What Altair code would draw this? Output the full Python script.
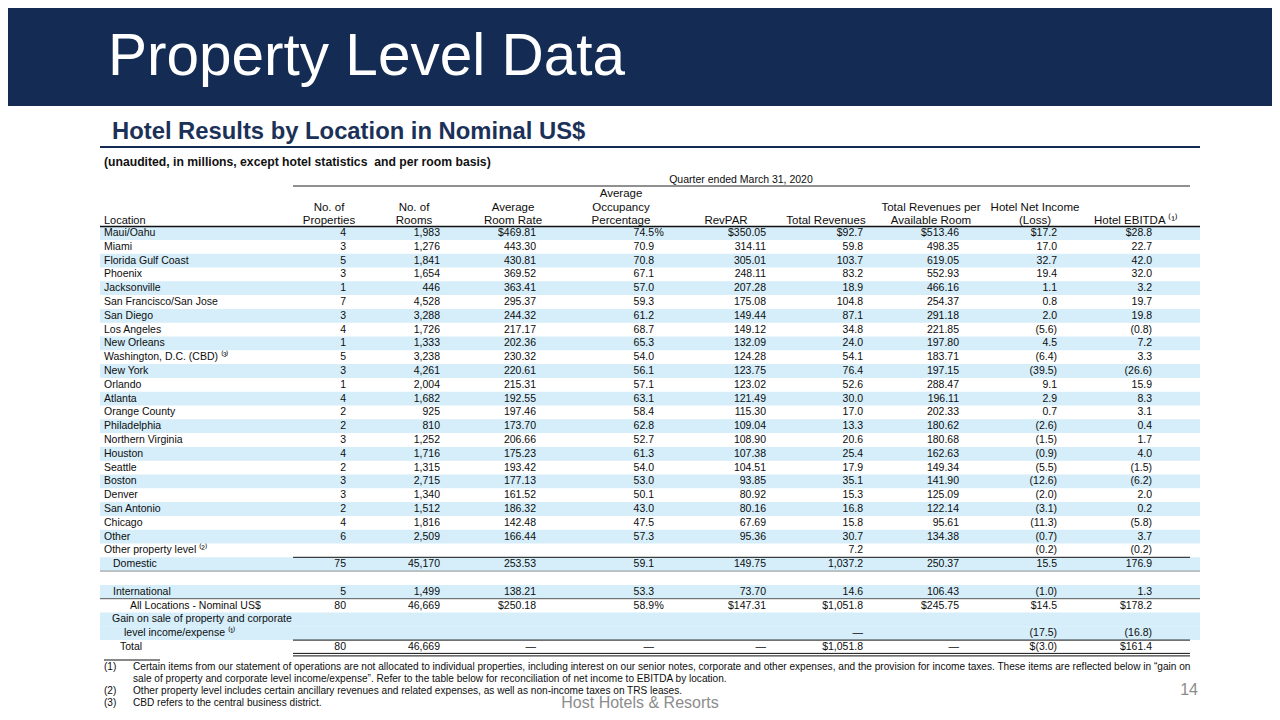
import altair as alt
import pandas as pd

# ------------------------------------------------------------------ data
locations = ["Maui/Oahu", "Miami", "Florida Gulf Coast", "Phoenix", "Jacksonville",
             "San Francisco/San Jose", "San Diego", "Los Angeles", "New Orleans",
             "Washington, D.C. (CBD) \u207d\u00b3\u207e", "New York", "Orlando", "Atlanta",
             "Orange County", "Philadelphia", "Northern Virginia", "Houston", "Seattle",
             "Boston", "Denver", "San Antonio", "Chicago", "Other"]
properties = [4, 3, 5, 3, 1, 7, 3, 4, 1, 5, 3, 1, 4, 2, 2, 3, 4, 2, 3, 3, 2, 4, 6]
rooms = [1983, 1276, 1841, 1654, 446, 4528, 3288, 1726, 1333, 3238, 4261, 2004, 1682,
         925, 810, 1252, 1716, 1315, 2715, 1340, 1512, 1816, 2509]
avg_room_rate = [469.81, 443.30, 430.81, 369.52, 363.41, 295.37, 244.32, 217.17, 202.36,
                 230.32, 220.61, 215.31, 192.55, 197.46, 173.70, 206.66, 175.23, 193.42,
                 177.13, 161.52, 186.32, 142.48, 166.44]
occupancy = [74.5, 70.9, 70.8, 67.1, 57.0, 59.3, 61.2, 68.7, 65.3, 54.0, 56.1, 57.1, 63.1,
             58.4, 62.8, 52.7, 61.3, 54.0, 53.0, 50.1, 43.0, 47.5, 57.3]
revpar = [350.05, 314.11, 305.01, 248.11, 207.28, 175.08, 149.44, 149.12, 132.09, 124.28,
          123.75, 123.02, 121.49, 115.30, 109.04, 108.90, 107.38, 104.51, 93.85, 80.92,
          80.16, 67.69, 95.36]
total_revenues = [92.7, 59.8, 103.7, 83.2, 18.9, 104.8, 87.1, 34.8, 24.0, 54.1, 76.4, 52.6,
                  30.0, 17.0, 13.3, 20.6, 25.4, 17.9, 35.1, 15.3, 16.8, 15.8, 30.7]
trevpar = [513.46, 498.35, 619.05, 552.93, 466.16, 254.37, 291.18, 221.85, 197.80, 183.71,
           197.15, 288.47, 196.11, 202.33, 180.62, 180.68, 162.63, 149.34, 141.90, 125.09,
           122.14, 95.61, 134.38]
net_income = [17.2, 17.0, 32.7, 19.4, 1.1, 0.8, 2.0, -5.6, 4.5, -6.4, -39.5, 9.1, 2.9, 0.7,
              -2.6, -1.5, -0.9, -5.5, -12.6, -2.0, -3.1, -11.3, -0.7]
ebitda = [28.8, 22.7, 42.0, 32.0, 3.2, 19.7, 19.8, -0.8, 7.2, 3.3, -26.6, 15.9, 8.3, 3.1,
          0.4, 1.7, 4.0, -1.5, -6.2, 2.0, 0.2, -5.8, 3.7]

other_level = {"total_revenues": 7.2, "net_income": -0.2, "ebitda": -0.2}
domestic = [75, 45170, 253.53, 59.1, 149.75, 1037.2, 250.37, 15.5, 176.9]
international = [5, 1499, 138.21, 53.3, 73.70, 14.6, 106.43, -1.0, 1.3]
all_locations = [80, 46669, 250.18, 58.9, 147.31, 1051.8, 245.75, 14.5, 178.2]
gain_on_sale = {"net_income": -17.5, "ebitda": -16.8}
total_row = {"properties": 80, "rooms": 46669, "total_revenues": 1051.8,
             "net_income": -3.0, "ebitda": 161.4}

headers = {
    "properties": ["", "No. of", "Properties"],
    "rooms": ["", "No. of", "Rooms"],
    "rate": ["", "Average", "Room Rate"],
    "occ": ["Average", "Occupancy", "Percentage"],
    "revpar": ["", "", "RevPAR"],
    "total_revenues": ["", "", "Total Revenues"],
    "trevpar": ["", "Total Revenues per", "Available Room"],
    "net_income": ["", "Hotel Net Income", "(Loss)"],
    "ebitda": ["", "", "Hotel EBITDA \u207d\u00b9\u207e"],
}

footnotes = [
    ("(1)", "Certain items from our statement of operations are not allocated to individual properties, including interest on our senior notes, corporate and other expenses, and the provision for income taxes. These items are reflected below in \u201cgain on"),
    ("", "sale of property and corporate level income/expense\u201d. Refer to the table below for reconciliation of net income to EBITDA by location."),
    ("(2)", "Other property level includes certain ancillary revenues and related expenses, as well as non-income taxes on TRS leases."),
    ("(3)", "CBD refers to the central business district."),
]

# ------------------------------------------------------------------ layout
FONT = "Liberation Sans, Arial, sans-serif"
NAVY = "#142c54"
SHADE = "#d5eefa"
INK = "#0d0d0d"
cols = ["properties", "rooms", "rate", "occ", "revpar", "total_revenues", "trevpar",
        "net_income", "ebitda"]
col_right = dict(zip(cols, [346, 440, 536, 654, 766, 863, 959, 1057, 1152]))
col_head = dict(zip(cols, [329, 414, 513, 621, 726, 826, 931, 1035, 1136]))
ROW0, PITCH = 233.0, 13.8


def ry(i):
    return ROW0 + i * PITCH


def fmt(v, dec, dollar=False):
    s = f"{abs(v):,.{dec}f}"
    if v < 0:
        s = f"({s})"
    return ("$" + s) if dollar else s


decs = dict(zip(cols, [0, 0, 2, 1, 2, 1, 2, 1, 1]))
money = {"rate", "revpar", "total_revenues", "trevpar", "net_income", "ebitda"}

cells, pct, labels = [], [], []


def add_row(i, values, dollar=False, pct_sign=False):
    for c, v in zip(cols, values):
        if v is None:
            continue
        t = v if isinstance(v, str) else fmt(v, decs[c], dollar and c in money)
        cells.append({"x": col_right[c], "y": ry(i), "text": t})
        if c == "occ" and pct_sign and not isinstance(v, str):
            pct.append({"x": col_right[c] + 0.5, "y": ry(i), "text": "%"})


for i, name in enumerate(locations):
    labels.append({"x": 104, "y": ry(i), "text": name})
    add_row(i, [properties[i], rooms[i], avg_room_rate[i], occupancy[i], revpar[i],
                total_revenues[i], trevpar[i], net_income[i], ebitda[i]],
            dollar=(i == 0), pct_sign=(i == 0))

n = len(locations)
labels.append({"x": 104, "y": ry(n), "text": "Other property level \u207d\u00b2\u207e"})
add_row(n, [None, None, None, None, None, other_level["total_revenues"], None,
            other_level["net_income"], other_level["ebitda"]])
labels.append({"x": 113, "y": ry(n + 1), "text": "Domestic"})
add_row(n + 1, domestic)
labels.append({"x": 113, "y": ry(n + 3), "text": "International"})
add_row(n + 3, international)
labels.append({"x": 130, "y": ry(n + 4), "text": "All Locations - Nominal US$"})
add_row(n + 4, all_locations, dollar=True, pct_sign=True)
labels.append({"x": 112, "y": ry(n + 5), "text": "Gain on sale of property and corporate"})
labels.append({"x": 124, "y": ry(n + 6), "text": "level income/expense \u207d\u00b9\u207e"})
add_row(n + 6, [None, None, None, None, None, "\u2014", None,
                gain_on_sale["net_income"], gain_on_sale["ebitda"]])
labels.append({"x": 120, "y": ry(n + 7), "text": "Total"})
add_row(n + 7, [str(total_row["properties"]), f"{total_row['rooms']:,}", "\u2014", "\u2014",
                "\u2014", fmt(total_row["total_revenues"], 1, True),
                "\u2014", "$" + fmt(total_row["net_income"], 1),
                fmt(total_row["ebitda"], 1, True)])

shaded_rows = [i for i in range(0, n, 2)] + [n + 1, n + 3, n + 5, n + 6]
shade_df = pd.DataFrame([{"x": 100, "x2": 1200, "y": ry(i) - PITCH / 2,
                          "y2": ry(i) + PITCH / 2, "c": SHADE} for i in shaded_rows])
band_df = pd.DataFrame([{"x": 8, "x2": 1272, "y": 8, "y2": 106, "c": NAVY}])
rect_df = pd.concat([band_df, shade_df], ignore_index=True)


def bot(i):
    return ry(i) + PITCH / 2


rules = [
    (100, 1200, 147, NAVY, 2.2),
    (293, 1190, 186, "#222222", 1.0),
    (100, 1200, 226.5, "#111111", 1.3),
    (293, 1190, bot(n), "#111111", 1.0),
    (100, 1200, bot(n + 1), "#777777", 0.8),
    (100, 1200, bot(n + 3), "#555555", 1.0),
    (293, 1190, bot(n + 6), "#111111", 1.0),
    (293, 1190, bot(n + 7) - 0.5, "#111111", 1.0),
    (293, 1190, bot(n + 7) + 2.0, "#111111", 1.0),
    (104, 160, 660, "#111111", 1.0),
]
rule_df = pd.DataFrame([{"x": a, "x2": b, "y": y, "y2": y, "c": c, "w": w}
                        for a, b, y, c, w in rules])

head_rows = [197, 210.5, 224]
head = []
for c in cols:
    for k, t in enumerate(headers[c]):
        if t:
            head.append({"x": col_head[c], "y": head_rows[k], "text": t})
head_df = pd.DataFrame(head)

foot = []
for k, (lab, txt) in enumerate(footnotes):
    yy = 667 + 12 * k
    if lab:
        foot.append({"x": 104, "y": yy, "text": lab})
    foot.append({"x": 133, "y": yy, "text": txt})
foot_df = pd.DataFrame(foot)

# ------------------------------------------------------------------ chart
xs = alt.Scale(domain=[8, 1272], nice=False, zero=False)
ys = alt.Scale(domain=[8, 712], nice=False, zero=False, reverse=True)
X = alt.X("x:Q", scale=xs, axis=None)
Y = alt.Y("y:Q", scale=ys, axis=None)


def text_layer(data, align="left", size=10.5, weight="normal", color=INK,
               baseline="middle"):
    return alt.Chart(pd.DataFrame(data)).mark_text(
        align=align, baseline=baseline, fontSize=size, fontWeight=weight,
        color=color, font=FONT).encode(x=X, y=Y, text="text:N")


rects = alt.Chart(rect_df).mark_rect().encode(
    x=X, x2="x2:Q", y=Y, y2="y2:Q", color=alt.Color("c:N", scale=None))
lines = alt.Chart(rule_df).mark_rule().encode(
    x=X, x2="x2:Q", y=Y, y2="y2:Q", color=alt.Color("c:N", scale=None),
    strokeWidth=alt.StrokeWidth("w:Q", scale=None))

layers = [
    rects,
    lines,
    text_layer([{"x": 108, "y": 75, "text": "Property Level Data"}], size=58.5,
               color="#ffffff", baseline="alphabetic"),
    text_layer([{"x": 112, "y": 139, "text": "Hotel Results by Location in Nominal US$"}],
               size=23.8, weight="bold", color="#1b3157", baseline="alphabetic"),
    text_layer([{"x": 104, "y": 166,
                 "text": "(unaudited, in millions, except hotel statistics\u00a0 and per room basis)"}],
               size=12.2, weight="bold", color="#111111", baseline="alphabetic"),
    text_layer([{"x": 741, "y": 183, "text": "Quarter ended March 31, 2020"}],
               align="center", size=10.5, baseline="alphabetic"),
    text_layer(head_df, align="center", size=11.5, baseline="alphabetic"),
    text_layer([{"x": 104, "y": 224, "text": "Location"}], size=11, baseline="alphabetic"),
    text_layer(labels),
    text_layer(cells, align="right"),
    text_layer(pct),
    text_layer(foot_df, size=10.1),
    text_layer([{"x": 1198, "y": 690, "text": "14"}], align="right", size=16,
               color="#8c8c8c"),
    text_layer([{"x": 640, "y": 703, "text": "Host Hotels & Resorts"}], align="center",
               size=16, color="#8c8c8c"),
]

chart = alt.layer(*layers).properties(
    width=1264, height=704, padding=0, autosize="none", background="#ffffff"
).configure_view(stroke=None)

chart.save("out.html", embed_options={"renderer": "svg", "actions": False})
